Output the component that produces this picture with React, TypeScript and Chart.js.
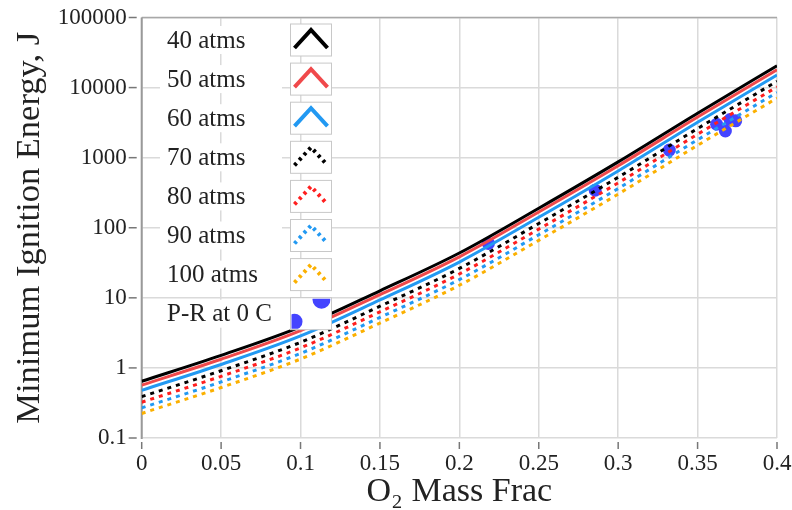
import { useEffect, useRef } from 'react';
import { Chart, registerables } from 'chart.js';

Chart.register(...registerables);

// O2 mass fraction (x) at which curves were read
const xValues = [0, 0.05, 0.1, 0.15, 0.2, 0.25, 0.3, 0.35, 0.4];

// Minimum ignition energy, J
const mie40 = [0.646, 1.51, 3.85, 12.6, 43.6, 190, 871, 4315, 20420];
const mie50 = [0.569, 1.33, 3.4, 11.1, 38.5, 168, 767, 3800, 17990];
const mie60 = [0.479, 1.12, 2.86, 9.33, 32.4, 141, 646, 3200, 15140];
const mie70 = [0.389, 0.912, 2.32, 7.59, 26.3, 115, 525, 2600, 12300];
const mie80 = [0.324, 0.759, 1.93, 6.31, 21.9, 95.5, 437, 2160, 10230];
const mie90 = [0.269, 0.631, 1.61, 5.25, 18.2, 79.4, 363, 1800, 8510];
const mie100 = [0.224, 0.525, 1.34, 4.37, 15.1, 66.1, 302, 1500, 7080];

// P-R at 0 C points
const prX = [0.2183, 0.2855, 0.3322, 0.362, 0.3675, 0.3705, 0.374];
const prY = [59.7, 344, 1285, 3000, 2400, 3500, 3350];

const seriesLabels = ['40 atms', '50 atms', '60 atms', '70 atms', '80 atms', '90 atms', '100 atms'];
const scatterLabel = 'P-R at 0 C';
const seriesValues = [mie40, mie50, mie60, mie70, mie80, mie90, mie100];
const seriesColors = ['#000000', '#f0494b', '#2299f2', '#000000', '#ff1f1f', '#2299f2', '#fbb000'];
const seriesDotted = [false, false, false, true, true, true, true];
const scatterColor = '#4444ff';

const yTickValues = [0.1, 1, 10, 100, 1000, 10000, 100000];
const yTickLabels = ['0.1', '1', '10', '100', '1000', '10000', '100000'];

const xTitle = 'O\u2082 Mass Frac';
const yTitle = 'Minimum Ignition Energy, J';

const FONT = "'Liberation Serif', 'Times New Roman', serif";
const DASH = [4, 5];

const decorPlugin = {
  id: 'decor',
  beforeDatasetsDraw(chart: any) {
    const { ctx, chartArea } = chart;
    const xs = chart.scales.x;
    const ys = chart.scales.y;
    ctx.save();
    ctx.strokeStyle = '#a8a8a8';
    ctx.lineWidth = 1.5;
    ctx.beginPath();
    ctx.moveTo(chartArea.left, chartArea.top);
    ctx.lineTo(chartArea.right, chartArea.top);
    ctx.stroke();
    ctx.strokeStyle = '#999999';
    ctx.lineWidth = 2;
    ctx.beginPath();
    ctx.moveTo(chartArea.left, chartArea.top);
    ctx.lineTo(chartArea.left, chartArea.bottom + 1);
    ctx.stroke();
    ctx.strokeStyle = '#777777';
    ctx.lineWidth = 1.5;
    yTickValues.forEach((v) => {
      const py = ys.getPixelForValue(v);
      ctx.beginPath();
      ctx.moveTo(chartArea.left - 13, py);
      ctx.lineTo(chartArea.left - 5, py);
      ctx.stroke();
    });
    xs.ticks.forEach((t: any) => {
      const px = xs.getPixelForValue(t.value);
      ctx.beginPath();
      ctx.moveTo(px, chartArea.bottom + 4);
      ctx.lineTo(px, chartArea.bottom + 11);
      ctx.stroke();
    });
    ctx.restore();
  },
  afterDraw(chart: any) {
    const { ctx } = chart;
    ctx.save();
    const labels = [...seriesLabels, scatterLabel];
    const rowTop = 40;
    const rowStep = 39.1;
    labels.forEach((label, i) => {
      const cy = rowTop + i * rowStep;
      ctx.fillStyle = '#ffffff';
      ctx.fillRect(160, cy - 14, 122, 28);
      ctx.fillStyle = '#222222';
      ctx.font = `25px ${FONT}`;
      ctx.textAlign = 'left';
      ctx.textBaseline = 'middle';
      ctx.fillText(label, 167, cy + 1);
      const bx = 290.5;
      const by = cy - 16;
      const bw = 41;
      const bh = 32;
      ctx.fillStyle = '#ffffff';
      ctx.fillRect(bx, by, bw, bh);
      ctx.strokeStyle = '#c8c8c8';
      ctx.lineWidth = 1;
      ctx.strokeRect(bx, by, bw, bh);
      if (i < seriesLabels.length) {
        ctx.strokeStyle = seriesColors[i];
        ctx.lineWidth = 4;
        ctx.lineJoin = 'miter';
        ctx.setLineDash(seriesDotted[i] ? [3, 4] : []);
        ctx.beginPath();
        ctx.moveTo(bx + 4, cy + 8);
        ctx.lineTo(bx + 20.5, cy - 10);
        ctx.lineTo(bx + 37, cy + 8);
        ctx.stroke();
        ctx.setLineDash([]);
      } else {
        ctx.save();
        ctx.beginPath();
        ctx.rect(bx + 1, by + 1, bw - 2, bh - 2);
        ctx.clip();
        ctx.fillStyle = scatterColor;
        ctx.beginPath();
        ctx.arc(bx + 31, by + 2, 9, 0, Math.PI * 2);
        ctx.fill();
        ctx.beginPath();
        ctx.arc(bx + 4, by + 24, 8, 0, Math.PI * 2);
        ctx.fill();
        ctx.restore();
      }
    });
    ctx.restore();
  },
};

export default function App() {
  const canvasRef = useRef<HTMLCanvasElement | null>(null);

  useEffect(() => {
    const canvas = canvasRef.current;
    if (!canvas) return;
    Chart.defaults.font.family = FONT;
    const lineSets = seriesValues.map((vals, i) => ({
      type: 'line' as const,
      label: seriesLabels[i],
      data: xValues.map((x, j) => ({ x, y: vals[j] })),
      borderColor: seriesColors[i],
      backgroundColor: seriesColors[i],
      borderWidth: 3,
      borderDash: seriesDotted[i] ? DASH : [],
      pointRadius: 0,
      fill: false,
      cubicInterpolationMode: 'monotone' as const,
    }));
    const scatterSet = {
      type: 'scatter' as const,
      label: scatterLabel,
      data: prX.map((x, j) => ({ x, y: prY[j] })),
      backgroundColor: scatterColor,
      borderColor: scatterColor,
      pointRadius: 6.5,
      pointBorderWidth: 0,
      showLine: false,
    };
    const chart = new Chart(canvas, {
      type: 'line',
      data: { datasets: [...lineSets, scatterSet] as any },
      options: {
        responsive: false,
        animation: false,
        events: [],
        layout: { padding: { left: 0, right: 15, top: 17.5, bottom: 0 } },
        plugins: { legend: { display: false }, tooltip: { enabled: false } },
        scales: {
          x: {
            type: 'linear',
            min: 0,
            max: 0.4,
            afterFit: (s: any) => {
              s.height = 72;
              s.paddingLeft = 0;
              s.paddingRight = 0;
              s.paddingTop = 0;
              s.paddingBottom = 0;
            },
            afterBuildTicks: (s: any) => {
              s.ticks = xValues.map((v) => ({ value: v }));
            },
            ticks: {
              padding: 12,
              color: '#222',
              font: { size: 23, family: FONT },
              maxRotation: 0,
              callback: (v: any) => String(Math.round(Number(v) * 100) / 100),
            },
            grid: { color: '#dadada', lineWidth: 1.5, drawTicks: false },
            border: { display: false },
            title: {
              display: true,
              text: xTitle,
              color: '#222',
              font: { size: 34, family: FONT, lineHeight: 1.0 },
              padding: { top: 0, bottom: 1 },
            },
          },
          y: {
            type: 'logarithmic',
            min: 0.1,
            max: 100000,
            afterFit: (s: any) => {
              s.width = 141.7;
              s.paddingLeft = 0;
              s.paddingRight = 0;
              s.paddingTop = 0;
              s.paddingBottom = 0;
            },
            afterBuildTicks: (s: any) => {
              s.ticks = yTickValues.map((v) => ({ value: v }));
            },
            ticks: {
              padding: 15,
              color: '#222',
              font: { size: 23, family: FONT },
              callback: (v: any) => {
                const idx = yTickValues.findIndex((t) => Math.abs(t - Number(v)) / t < 1e-6);
                return idx >= 0 ? yTickLabels[idx] : '';
              },
            },
            grid: { color: '#dadada', lineWidth: 1.5, drawTicks: false },
            border: { display: false },
            title: {
              display: true,
              text: yTitle,
              color: '#222',
              font: { size: 34.5, family: FONT, lineHeight: 1.0 },
              padding: { top: 13, bottom: 0 },
            },
          },
        },
      },
      plugins: [decorPlugin],
    });
    return () => chart.destroy();
  }, []);

  return (
    <div style={{ position: 'absolute', left: 0, top: 0, width: 792, height: 510, background: '#fff' }}>
      <canvas ref={canvasRef} width={792} height={510} style={{ display: 'block' }} />
    </div>
  );
}
